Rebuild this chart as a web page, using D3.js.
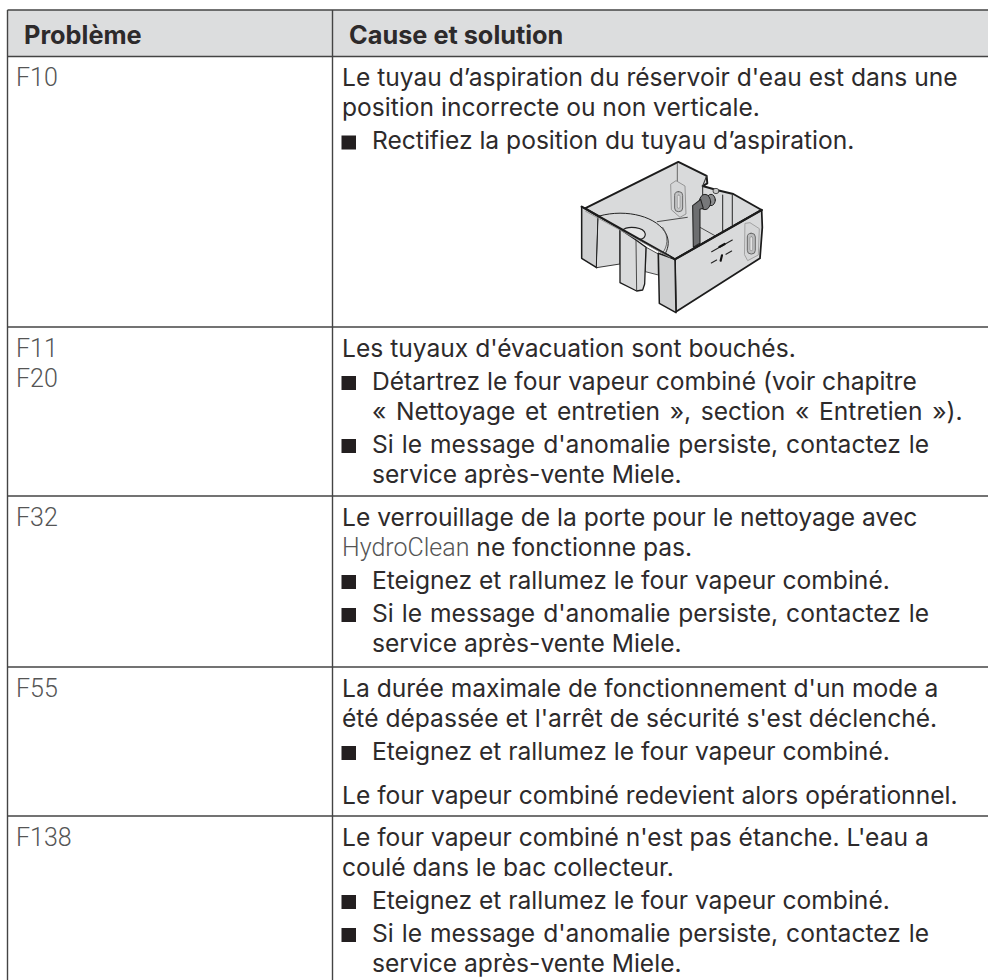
<!DOCTYPE html>
<html>
<head>
<meta charset="utf-8">
<script src="https://cdn.jsdelivr.net/npm/d3@7"></script>
<style>
html, body { margin: 0; padding: 0; background: #fff; }
</style>
</head>
<body>
<div id="table"></div>
<script>
const width = 988;
const height = 980;

const headers = ['Problème', 'Cause et solution'];
const codes = [['F10'], ['F11', 'F20'], ['F32'], ['F55'], ['F138']];
// b: bullet, c: continuation of a bullet, p: new paragraph, code: leading word in the display font
const causes = [
  [
    { t: 'Le tuyau d’aspiration du réservoir d\'eau est dans une' },
    { t: 'position incorrecte ou non verticale.' },
    { t: 'Rectifiez la position du tuyau d’aspiration.', b: 1 }
  ],
  [
    { t: 'Les tuyaux d\'évacuation sont bouchés.' },
    { t: 'Détartrez le four vapeur combiné (voir chapitre', b: 1 },
    { t: '« Nettoyage et entretien », section « Entretien »).', c: 1 },
    { t: 'Si le message d\'anomalie persiste, contactez le', b: 1 },
    { t: 'service après-vente Miele.', c: 1 }
  ],
  [
    { t: 'Le verrouillage de la porte pour le nettoyage avec' },
    { t: ' ne fonctionne pas.', code: 'HydroClean' },
    { t: 'Eteignez et rallumez le four vapeur combiné.', b: 1 },
    { t: 'Si le message d\'anomalie persiste, contactez le', b: 1 },
    { t: 'service après-vente Miele.', c: 1 }
  ],
  [
    { t: 'La durée maximale de fonctionnement d\'un mode a' },
    { t: 'été dépassée et l\'arrêt de sécurité s\'est déclenché.' },
    { t: 'Eteignez et rallumez le four vapeur combiné.', b: 1 },
    { t: 'Le four vapeur combiné redevient alors opérationnel.', p: 1 }
  ],
  [
    { t: 'Le four vapeur combiné n\'est pas étanche. L\'eau a' },
    { t: 'coulé dans le bac collecteur.' },
    { t: 'Eteignez et rallumez le four vapeur combiné.', b: 1 },
    { t: 'Si le message d\'anomalie persiste, contactez le', b: 1 },
    { t: 'service après-vente Miele.', c: 1 }
  ]
];
const rowEdges = [56.5, 327, 496, 667, 816, 980];

const fontFamily = 'Inter, "Noto Sans", sans-serif';
const codeFont = 'Roboto, sans-serif';
const codeInk = '#555';
const ink = '#2d2a2b';
const rule = '#444';
const left = 7.5, mid = 332.5;
const lineHeight = 30;
const textSize = 24.6;

// the reference sets a few lines slightly looser than Inter does
function wordSpacing(t) {
  if (t.includes('«')) return 2.75;
  if (t.startsWith('Si le message')) return 1.1;
  return 0;
}

const svg = d3.select('#table').append('svg')
  .attr('width', width).attr('height', height)
  .style('display', 'block');

// header band
svg.append('rect').attr('x', left).attr('y', 10).attr('width', width - left).attr('height', 46.5).attr('fill', '#dcddde');
svg.selectAll('text.head').data(headers).join('text')
  .attr('class', 'head')
  .attr('x', (d, i) => i ? 349 : 24)
  .attr('y', 44)
  .attr('font-family', fontFamily).attr('font-size', 25.3).attr('font-weight', 700).attr('fill', ink)
  .text(d => d);

// rules
svg.selectAll('line.h').data([10, ...rowEdges.slice(0, 5)]).join('line')
  .attr('class', 'h').attr('x1', left).attr('x2', width)
  .attr('y1', d => d).attr('y2', d => d)
  .attr('stroke', rule).attr('stroke-width', 1.4);
svg.selectAll('line.v').data([left, mid]).join('line')
  .attr('class', 'v').attr('x1', d => d).attr('x2', d => d)
  .attr('y1', 10).attr('y2', height)
  .attr('stroke', rule).attr('stroke-width', 1.4);

// rows
const rows = svg.selectAll('g.row').data(codes).join('g')
  .attr('class', 'row')
  .attr('transform', (d, i) => `translate(0,${rowEdges[i]})`);

rows.selectAll('text.code').data(d => d).join('text')
  .attr('class', 'code')
  .attr('x', 16)
  .attr('y', (d, i) => 29.5 + i * lineHeight)
  .attr('font-family', codeFont).attr('font-size', 25).attr('font-weight', 300).attr('fill', codeInk)
  .text(d => d);

rows.each(function(d, i) {
  const g = d3.select(this);
  let y = 29.5;
  causes[i].forEach((line, j) => {
    if (line.b && j) y += 3;
    if (line.p) y += 14;
    if (line.b) {
      g.append('rect').attr('x', 341.5).attr('y', y - 13.5).attr('width', 14.5).attr('height', 14).attr('fill', '#231f20');
    }
    const text = g.append('text')
      .attr('x', line.b || line.c ? 372 : 342)
      .attr('y', y)
      .attr('font-family', fontFamily).attr('font-size', textSize).attr('fill', ink)
      .attr('word-spacing', wordSpacing(line.t));
    if (line.code) {
      text.append('tspan').attr('font-family', codeFont).attr('font-weight', 300).attr('font-size', 25).attr('fill', codeInk).text(line.code);
    }
    text.append('tspan').style('white-space', 'pre').text(line.t);
    y += lineHeight;
  });
});

// water tank illustration, traced in 3x crop units
const path = d3.line().curve(d3.curveLinear);
const tank = svg.append('g').attr('transform', 'translate(570,140) scale(0.3333)')
  .attr('stroke-linejoin', 'round').attr('stroke-linecap', 'round');
const wall = '#d9dadb', wallDark = '#cfd0d1', edge = '#1c1c1c';

function poly(pts, fill, stroke, sw) {
  tank.append('path').attr('d', path(pts) + (fill === 'none' ? '' : 'Z'))
    .attr('fill', fill).attr('stroke', stroke).attr('stroke-width', sw * 1.3);
}

// inside of the tank
poly([[45, 205], [325, 66], [410, 108], [412, 130], [398, 138], [440, 150], [490, 162], [575, 210], [315, 358]], wall, edge, 4.5);
poly([[322, 70], [322, 128]], 'none', '#555', 2);
poly([[458, 165], [458, 282]], 'none', '#333', 2.5);
poly([[487, 165], [487, 262]], 'none', '#333', 2.5);
poly([[352, 232], [262, 245]], 'none', '#333', 2);
poly([[390, 262], [458, 300]], 'none', '#333', 2);
poly([[410, 108], [398, 138], [398, 170]], 'none', '#333', 2.5);

// back window
poly([[303, 132], [318, 122], [345, 138], [348, 222], [330, 232], [305, 210]], '#d5d6d7', '#8a8a8a', 2);
tank.append('rect').attr('x', 314).attr('y', 155).attr('width', 24).attr('height', 60).attr('rx', 11)
  .attr('fill', '#c4c5c6').attr('stroke', '#666').attr('stroke-width', 3);
tank.append('rect').attr('x', 322).attr('y', 165).attr('width', 8).attr('height', 40).attr('rx', 4)
  .attr('fill', '#e2e2e2').attr('stroke', '#777').attr('stroke-width', 1.5);

// curved floor step
tank.append('path').attr('d', 'M88,228 C170,205 265,230 290,285 C300,310 292,330 285,342')
  .attr('fill', '#d9dadb').attr('stroke', '#222').attr('stroke-width', 3);
tank.append('path').attr('d', 'M278,262 C298,290 292,322 278,338')
  .attr('fill', 'none').attr('stroke', '#555').attr('stroke-width', 2.5);
tank.append('path').attr('d', 'M155,272 C175,255 222,262 226,282 C226,292 218,297 210,298')
  .attr('fill', '#e6e6e6').attr('stroke', '#222').attr('stroke-width', 3.5);

// suction hose
tank.append('ellipse').attr('cx', 438).attr('cy', 153).attr('rx', 9).attr('ry', 8).attr('fill', '#c9c9c9').attr('stroke', '#333').attr('stroke-width', 2.5);
tank.append('ellipse').attr('cx', 423).attr('cy', 180).attr('rx', 13).attr('ry', 17).attr('fill', '#8d8e90').attr('stroke', '#222').attr('stroke-width', 3);
tank.append('ellipse').attr('cx', 405).attr('cy', 186).attr('rx', 17).attr('ry', 23).attr('fill', '#77787a').attr('stroke', '#222').attr('stroke-width', 3);
poly([[368, 197], [392, 178], [400, 205], [390, 208], [390, 310], [370, 322]], '#6d6e70', '#222', 2.5);

// front rim, right wall and legs
poly([[315, 358], [575, 210], [577, 262], [570, 355], [318, 515]], wall, edge, 4);
poly([[35, 200], [85, 230], [80, 383], [35, 355]], wallDark, edge, 3.5);
poly([[85, 230], [150, 268], [150, 372], [80, 383]], wall, edge, 2);
poly([[198, 305], [265, 342], [265, 405], [226, 395], [228, 325]], wall, '#333', 2);
poly([[150, 268], [198, 300], [228, 322], [224, 432], [218, 450], [200, 453], [150, 428]], wall, edge, 3);
poly([[198, 300], [200, 452]], 'none', '#333', 2);
poly([[265, 340], [315, 358], [318, 518], [268, 490]], wallDark, edge, 3.5);
poly([[35, 200], [315, 358]], 'none', edge, 5);
poly([[47, 214], [300, 352]], 'none', '#8f8f8f', 2);
poly([[315, 358], [575, 210]], 'none', edge, 5);

// front window and level marks
poly([[526, 250], [540, 248], [568, 266], [565, 345], [533, 362], [524, 345]], '#d5d6d7', '#9a9a9a', 2);
tank.append('rect').attr('x', 532).attr('y', 280).attr('width', 24).attr('height', 62).attr('rx', 11)
  .attr('fill', '#bcbdbe').attr('stroke', '#666').attr('stroke-width', 3);
tank.append('rect').attr('x', 540).attr('y', 290).attr('width', 8).attr('height', 42).attr('rx', 4)
  .attr('fill', '#e2e2e2').attr('stroke', '#777').attr('stroke-width', 1.5);
poly([[425, 335], [487, 300]], 'none', '#222', 2.5);
poly([[448, 321], [464, 312]], 'none', '#111', 5);
poly([[424, 369], [440, 360]], 'none', '#222', 2.5);
poly([[468, 343], [485, 333]], 'none', '#222', 2.5);
poly([[452, 362], [456, 346]], 'none', '#111', 5);
</script>
</body>
</html>
